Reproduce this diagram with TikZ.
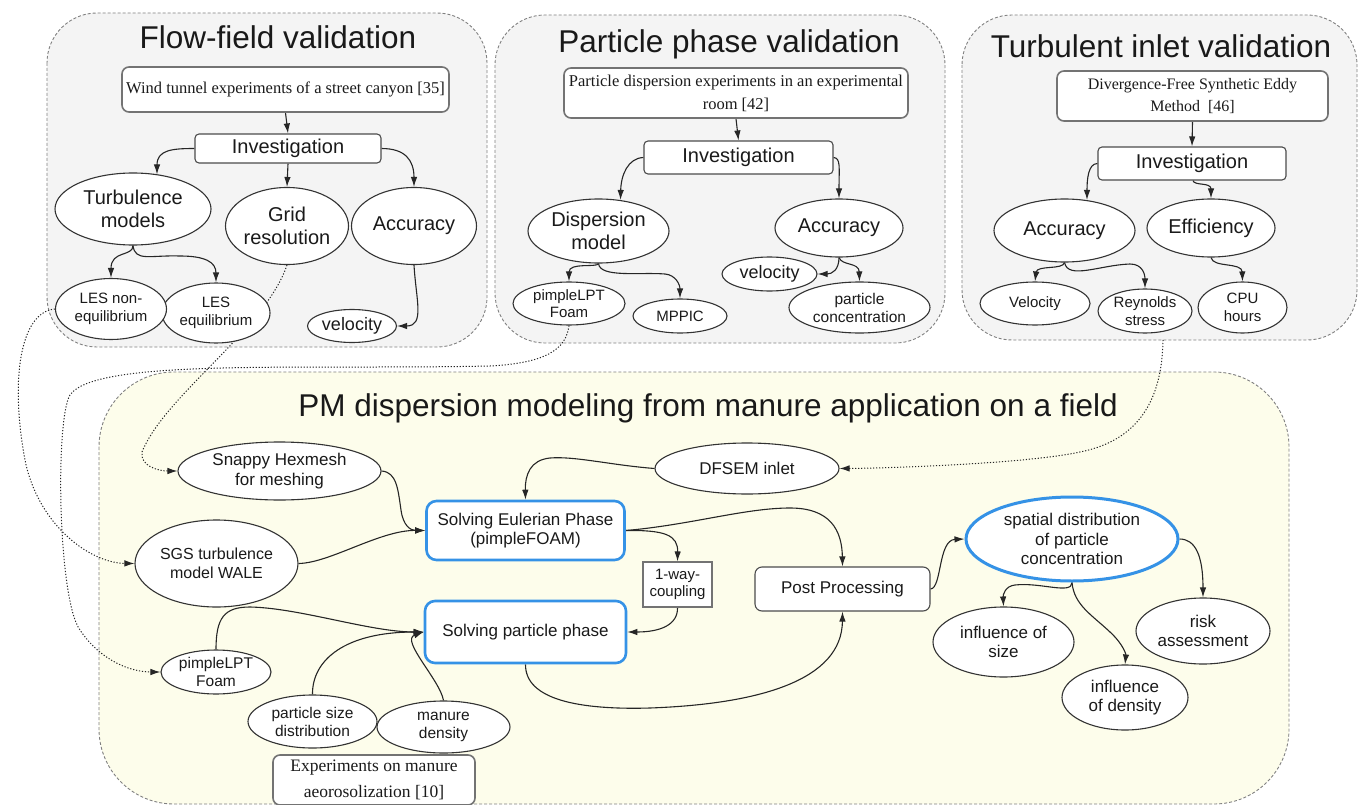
\documentclass[tikz,border=0pt]{standalone}
\usepackage{fontspec}
\newfontfamily\arial{Liberation Sans}
\newfontfamily\serifx{Liberation Serif}
\usetikzlibrary{arrows.meta,calc,shapes.geometric}
\definecolor{graybg}{HTML}{F4F4F4}
\definecolor{creambg}{HTML}{FDFDEB}
\definecolor{blueb}{HTML}{3592E6}
\definecolor{txt}{HTML}{1A1A1A}
\definecolor{brd}{HTML}{808080}
\newcommand\myfs[2]{\fontsize{#1}{#2}\selectfont}
\pgfdeclarelayer{bg}
\pgfdeclarelayer{edges}
\pgfsetlayers{bg,edges,main}
\begin{document}
\begin{tikzpicture}[x=1pt,y=-1pt,
  every node/.style={text=txt},
  f15/.style={font=\arial\myfs{15}{17.5}},
  f155/.style={font=\arial\myfs{15.5}{18}},
  f16/.style={font=\arial\myfs{16}{19}},
  f17/.style={font=\arial\myfs{17}{19.5}},
  f18/.style={font=\arial\myfs{18}{20}},
  f20/.style={font=\arial\myfs{20}{22.5}},
  ell/.style={ellipse, draw=black!80, line width=1.1pt, fill=white, inner sep=0pt, align=center},
  rbox/.style={rectangle, rounded corners=4pt, draw=black!70, line width=1.1pt, fill=white, inner sep=0pt, align=center},
  sbox/.style={rectangle, rounded corners=7pt, draw=black!55, line width=1.6pt, fill=white, inner sep=0pt, align=center, font=\serifx\myfs{16.5}{23}},
  bbox/.style={rectangle, rounded corners=10pt, draw=blueb, line width=2.6pt, fill=white, inner sep=0pt, align=center},
  arr/.style={draw=black!85, line width=1.1pt, -{Latex[length=10pt,width=6.5pt]}},
  darr/.style={arr, line width=1pt, dash pattern=on 1.2pt off 1.8pt},
  cluster/.style={draw=brd, line width=0.9pt, dash pattern=on 3pt off 2pt},
  ttl/.style={font=\arial\myfs{31.5}{36}, text=black!90},
]
\useasboundingbox (0,0) rectangle (1359,805);

\begin{pgfonlayer}{bg}
\filldraw[cluster, fill=graybg, rounded corners=50pt] (47,13) rectangle (487,347);
\filldraw[cluster, fill=graybg, rounded corners=50pt] (495,15) rectangle (945,343);
\filldraw[cluster, fill=graybg, rounded corners=50pt] (962,15) rectangle (1357,340);
\filldraw[cluster, fill=creambg, rounded corners=75pt] (99,372) rectangle (1289,804);
\end{pgfonlayer}

% titles
\node[ttl] (t1) at (278,37) {Flow-field validation};
\node[ttl] (t2) at (729,44) {Particle phase validation};
\node[ttl] (t3) at (1161,46) {Turbulent inlet validation};
\node[ttl] (t4) at (708,408) {PM dispersion modeling from manure application on a field};

% box 1
\node[sbox, minimum width=327pt, minimum height=45pt] (wt) at (285.5,89.5) {Wind tunnel experiments of a street canyon [35]};
\node[rbox, f20, minimum width=186pt, minimum height=29pt] (inv1) at (288,148.5) {Investigation};
\node[ell, f20, minimum width=156pt, minimum height=72pt] (turb) at (133,209) {Turbulence\\models};
\node[ell, f20, minimum width=123pt, minimum height=77pt] (grid) at (287,226) {Grid\\resolution};
\node[ell, f20, minimum width=125pt, minimum height=77pt] (acc1) at (414,226) {Accuracy};
\node[ell, f15, minimum width=108pt, minimum height=60pt] (lese) at (216,313) {LES\\equilibrium};
\node[ell, f15, minimum width=111pt, minimum height=61pt] (lesne) at (111,309) {LES non-\\equilibrium};
\node[ell, f18, minimum width=89pt, minimum height=33pt] (vel1) at (352,326) {velocity};

% box 2
\node[sbox, minimum width=344pt, minimum height=50pt] (pdr) at (736,93) {Particle dispersion experiments in an experimental\\room [42]};
\node[rbox, f20, minimum width=189pt, minimum height=33pt] (inv2) at (738.5,157.5) {Investigation};
\node[ell, f20, minimum width=141pt, minimum height=64pt] (disp) at (598.5,231) {Dispersion\\model};
\node[ell, f20, minimum width=128pt, minimum height=58pt] (acc2) at (839,228) {Accuracy};
\node[ell, f15, minimum width=112pt, minimum height=43pt] (plpt1) at (569,303.5) {pimpleLPT\\Foam};
\node[ell, f15, minimum width=94pt, minimum height=34pt] (mppic) at (680,316) {MPPIC};
\node[ell, f18, minimum width=95pt, minimum height=34pt] (vel2) at (769.5,274) {velocity};
\node[ell, f155, minimum width=141pt, minimum height=51pt] (pconc) at (859.5,307.5) {particle\\concentration};

% box 3
\node[sbox, font=\serifx\myfs{16}{22}, minimum width=271pt, minimum height=50pt] (dfsm) at (1192.5,96) {Divergence-Free Synthetic Eddy\\Method~ [46]};
\node[rbox, f20, minimum width=188pt, minimum height=33pt] (inv3) at (1192,163.5) {Investigation};
\node[ell, f20, minimum width=141pt, minimum height=63pt] (acc3) at (1064.5,230.5) {Accuracy};
\node[ell, f20, minimum width=128pt, minimum height=58pt] (eff) at (1211,228) {Efficiency};
\node[ell, f15, minimum width=110pt, minimum height=43pt] (vel3) at (1035,303.5) {Velocity};
\node[ell, f15, minimum width=94pt, minimum height=44pt] (rey) at (1145,311) {Reynolds\\stress};
\node[ell, f15, minimum width=89pt, minimum height=51pt] (cpu) at (1242.5,307.5) {CPU\\hours};
\coordinate (tiout) at (1163,340);

% box 4
\node[ell, f17, minimum width=203pt, minimum height=58pt] (snap) at (279.5,471) {Snappy Hexmesh\\for meshing};
\node[ell, f16, minimum width=163pt, minimum height=87pt] (sgs) at (216.5,563.5) {SGS turbulence\\model WALE};
\node[ell, f155, minimum width=110pt, minimum height=44pt] (plpt2) at (216,672) {pimpleLPT\\Foam};
\node[ell, f155, minimum width=129pt, minimum height=53pt] (psd) at (312.5,721.5) {particle size\\distribution};
\node[ell, f155, minimum width=133pt, minimum height=52pt] (md) at (443.5,727) {manure\\density};
\node[sbox, font=\serifx\myfs{17.5}{26}, minimum width=202pt, minimum height=50pt] (expm) at (374,780) {Experiments on manure\\aeorosolization [10]};
\node[bbox, f17, minimum width=198pt, minimum height=59pt] (euler) at (525.5,530.5) {Solving Eulerian Phase\\(pimpleFOAM)};
\node[bbox, f17, minimum width=201pt, minimum height=62pt] (part) at (525.5,632) {Solving particle phase};
\node[ell, f17, minimum width=184pt, minimum height=51pt] (dfsem) at (747,468.5) {DFSEM inlet};
\node[rectangle, draw=black!55, line width=1.1pt, fill=white, f15, minimum width=69pt, minimum height=45pt, inner sep=0pt, align=center] (oneway) at (677.5,584.5) {1-way-\\coupling};
\node[rbox, rounded corners=7pt, f17, minimum width=175pt, minimum height=44pt] (post) at (842.5,589) {Post Processing};
\node[ell, draw=blueb, line width=3pt, f17, minimum width=212pt, minimum height=84pt] (spat) at (1072,539) {spatial distribution\\of particle\\concentration};
\node[ell, f17, minimum width=141pt, minimum height=70pt] (isize) at (1003.5,642) {influence of\\size};
\node[ell, f17, minimum width=126pt, minimum height=65pt] (idens) at (1125,697.5) {influence\\of density};
\node[ell, f17, minimum width=134pt, minimum height=66pt] (risk) at (1203,631) {risk\\assessment};

\begin{pgfonlayer}{edges}
% box 1
\draw[arr] (wt.south) -- (inv1.north);
\draw[arr] (inv1.west) .. controls (172,148.5) and (157,150) .. ($(turb.north)+(24,2)$);
\draw[arr] (inv1.south) -- (grid.north);
\draw[arr] (inv1.east) .. controls (405,148.5) and (414,160) .. (acc1.north);
\draw[arr] (turb.south) .. controls (133,257) and (111,250) .. (lesne.north);
\draw[arr] (turb.south) .. controls (135,262) and (150,255) .. (180,256) .. controls (205,256) and (216,262) .. (lese.north);
\draw[arr] (acc1.south) .. controls (416,300) and (425,326) .. (vel1.east);
% box 2
\draw[arr] (pdr.south) -- (inv2.north);
\draw[arr] (inv2.west) .. controls (628,158) and (621,175) .. ($(disp.north)+(22,1.5)$);
\draw[arr] (inv2.east) .. controls (841,158) and (839,168) .. (acc2.north);
\draw[arr] (disp.south) .. controls (597,268) and (569,262) .. (plpt1.north);
\draw[arr] (disp.south) .. controls (600,278) and (640,272) .. (665,274) .. controls (676,275) and (680,285) .. (mppic.north);
\draw[arr] (acc2.south) .. controls (839,270) and (832,274) .. (vel2.east);
\draw[arr] (acc2.south) .. controls (842,266) and (859,262) .. (pconc.north);
% box 3
\draw[arr] (dfsm.south) -- (inv3.north);
\draw[arr] (inv3.west) .. controls (1088,163.5) and (1087,180) .. ($(acc3.north)+(22.5,1.5)$);
\draw[arr] ($(inv3.south)+(1,0)$) .. controls (1194,186) and (1211,182) .. (eff.north);
\draw[arr] (acc3.south) .. controls (1063,270) and (1037,265) .. (vel3.north);
\draw[arr] (acc3.south) .. controls (1068,280) and (1100,265) .. (1130,264) .. controls (1143,264) and (1145,275) .. (rey.north);
\draw[arr] (eff.south) .. controls (1213,268) and (1242,262) .. (cpu.north);
% box 4
\draw[arr] (dfsem.west) .. controls (610,465) and (575,456) .. (550,458) .. controls (530,460) and (525,475) .. (euler.north);
\draw[arr] (snap.east) .. controls (397,472) and (398,490) .. (401,510) .. controls (403,525) and (410,530.5) .. (euler.west);
\draw[arr] (sgs.east) .. controls (330,563) and (380,530) .. (euler.west);
\draw[arr] (plpt2.north) .. controls (216,618) and (224,607) .. (250,607) .. controls (300,608) and (370,632) .. (part.west);
\draw[arr] (psd.north) .. controls (312,660) and (345,632) .. (part.west);
\draw[arr] (md.north) .. controls (440,680) and (400,640) .. (part.west);
\draw[arr] (euler.east) .. controls (665,530) and (678,535) .. (oneway.north);
\draw[arr] (euler.east) .. controls (690,525) and (745,508) .. (790,508) .. controls (830,508) and (842,530) .. (post.north);
\draw[arr] (oneway.south) .. controls (678,625) and (660,632) .. (part.east);
\draw[arr] (part.south) .. controls (525,700) and (580,710) .. (650,708) .. controls (760,704) and (842,680) .. (post.south);
\draw[arr] (post.east) .. controls (942,588) and (938,540) .. (spat.west);
\draw[arr] (spat.south) .. controls (1072,595) and (1040,582) .. (1015,585) .. controls (1005,586) and (1003,595) .. (isize.north);
\draw[arr] (spat.south) .. controls (1074,605) and (1092,615) .. (1110,632) .. controls (1124,645) and (1126,655) .. (idens.north);
\draw[arr] (spat.east) .. controls (1195,539) and (1203,555) .. (risk.north);
% dotted cross-links
\draw[darr] (tiout) .. controls (1162,410) and (1130,442) .. (1080,452) .. controls (1030,463) and (900,468) .. (dfsem.east);
\draw[darr] (grid.south) .. controls (265,330) and (165,395) .. (142,452) .. controls (140,466) and (158,471) .. (snap.west);
\draw[darr] (lesne.west) .. controls (20,312) and (10,380) .. (25,460) .. controls (38,525) and (90,563) .. (sgs.west);
\draw[darr] (plpt1.south) .. controls (566,350) and (545,363) .. (490,366) .. controls (300,370) and (95,358) .. (70,395) .. controls (55,420) and (58,600) .. (80,630) .. controls (100,660) and (130,672) .. (plpt2.west);
\end{pgfonlayer}
\end{tikzpicture}
\end{document}
